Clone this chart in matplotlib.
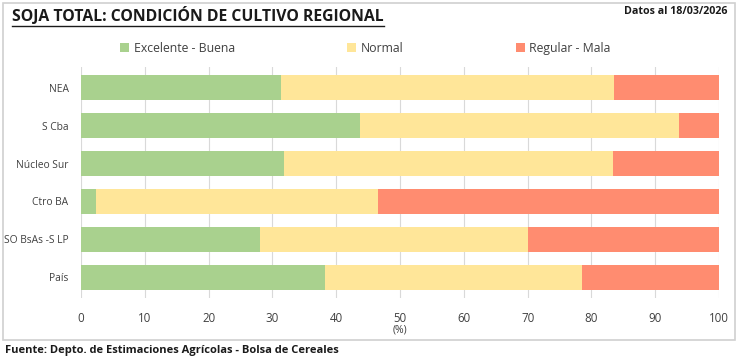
import numpy as np
import matplotlib.pyplot as plt
from matplotlib.patches import Rectangle

regiones = ['NEA', 'S Cba', 'Núcleo Sur', 'Ctro BA', 'SO BsAs -S LP', 'País']
exc_buena = [31.3, 43.7, 31.8, 2.3, 28.0, 38.2]
normal = [52.2, 50.1, 51.6, 44.2, 42.1, 40.4]
reg_mala = [16.5, 6.2, 16.6, 53.5, 29.9, 21.4]
series = ['Excelente - Buena', 'Normal', 'Regular - Mala']
colores = ['#A9D18E', '#FFE699', '#FF8C70']
xticks = list(range(0, 101, 10))

plt.rcParams['font.family'] = ['Open Sans', 'DejaVu Sans']

fig = plt.figure(figsize=(7.39, 3.62), dpi=100)
ax = fig.add_axes([81 / 739, 1 - 298 / 362, 638 / 739, 231 / 362])

y = np.arange(len(regiones))
left = np.zeros(len(regiones))
for nombre, vals, c in zip(series, [exc_buena, normal, reg_mala], colores):
    ax.barh(y, vals, left=left, height=0.66, color=c, label=nombre, zorder=2)
    left += np.array(vals)

ax.set_ylim(len(regiones) - 0.45, -0.55)
ax.set_xlim(0, 100)
ax.set_xticks(xticks)
ax.set_yticks(y)
ax.set_yticklabels(regiones)
ax.grid(axis='x', color='#D9D9D9', lw=0.8, zorder=0)
for s in ax.spines.values():
    s.set_visible(False)
ax.tick_params(axis='x', length=0, labelsize=8.3, colors='#404040', pad=10)
ax.tick_params(axis='y', length=0, labelsize=7.4, colors='#404040', pad=9)
ax.set_xlabel('(%)', fontsize=7.5, color='#404040', labelpad=0)

ax.legend(loc='lower center', bbox_to_anchor=(0.446, 1.0), ncol=3, frameon=False,
          fontsize=8.8, handlelength=0.7, handleheight=0.7, columnspacing=9.2,
          handletextpad=0.4, labelcolor='#404040', borderaxespad=0.6)

titulo = fig.text(12 / 739, 1 - 16 / 362, 'SOJA TOTAL: CONDICIÓN DE CULTIVO REGIONAL',
                  fontsize=11.3, fontweight='bold', va='center', ha='left', color='#1a1a1a')
fig.canvas.draw()
bb = titulo.get_window_extent().transformed(fig.transFigure.inverted())
fig.add_artist(plt.Line2D([bb.x0, bb.x1], [1 - 26 / 362, 1 - 26 / 362],
                          color='#1a1a1a', lw=1.0))
fig.text(727 / 739, 1 - 12 / 362, 'Datos al 18/03/2026', fontsize=7.7,
         fontweight='bold', va='center', ha='right', color='#1a1a1a')
fig.text(5 / 739, 1 - 350 / 362, 'Fuente: Depto. de Estimaciones Agrícolas - Bolsa de Cereales',
         fontsize=8.0, fontweight='bold', va='center', ha='left', color='#1a1a1a')

fig.add_artist(Rectangle((3 / 739, 1 - 340 / 362), 732 / 739, 337 / 362,
                         transform=fig.transFigure, fill=False, ec='#D0D0D0', lw=1.2))

fig.savefig('out.png', dpi=100)
